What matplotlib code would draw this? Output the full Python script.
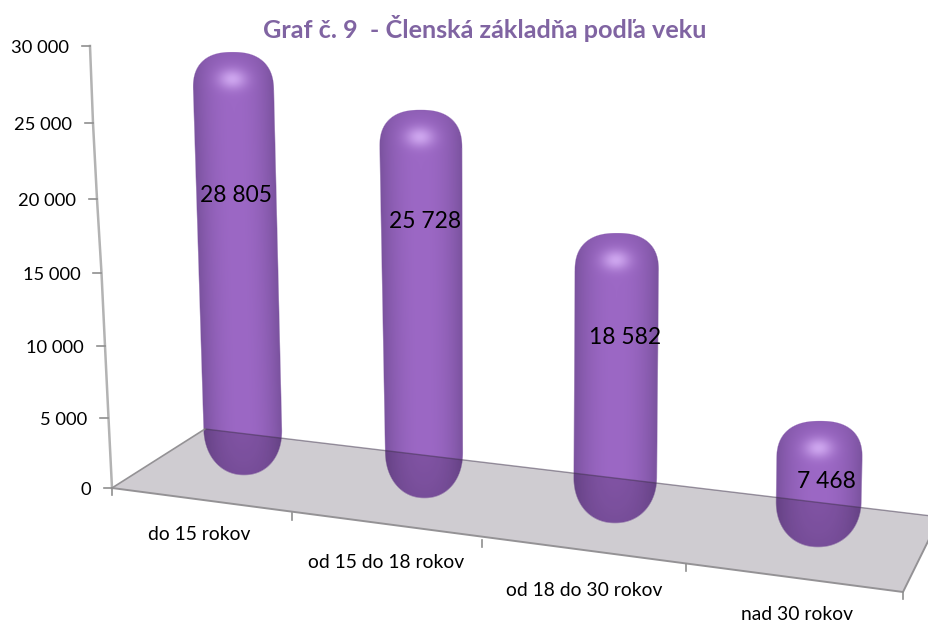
import numpy as np
import matplotlib
matplotlib.use('Agg')
import matplotlib.pyplot as plt
from matplotlib.patches import Polygon

plt.rcParams['font.family'] = ['Lato', 'DejaVu Sans']

categories = ['do 15 rokov', 'od 15 do 18 rokov', 'od 18 do 30 rokov', 'nad 30 rokov']
values = [28805, 25728, 18582, 7468]
y_ticks = [0, 5000, 10000, 15000, 20000, 25000, 30000]
title = 'Graf č. 9  - Členská základňa podľa veku'

# layout of the fake 3d scene, in pixels
W, H = 929, 623
wall_y = [488, 418, 346, 273, 199, 123, 46]
wall_x = [112, 108.5, 105, 101.5, 97, 93, 90]
floor = [(112, 488), (205, 429), (940, 517), (903, 592)]
cat_tick_x = [112, 292, 482, 686, 903]
cat_tick_y = [488, 513, 540, 564, 592]
cat_label_xy = [(199, 534), (386, 562), (584, 590), (797, 615)]

# per bar: bottom y, px per value, cx at top / bottom, half width top / bottom
bar_bottom = [475, 498, 523, 547]
bar_scale = [0.01392, 0.01423, 0.01442, 0.01393]
bar_pad = 22
cx_top = [232.5, 420.5, 617, 820]
cx_bot = [244, 424.5, 615, 818]
hw_top = [40.5, 41.5, 42, 43]
hw_bot = [39, 38.5, 41.5, 42.5]
label_y = [195, 222, 338, 481]
label_x = [236, 425, 625, 826]

C_DARK = np.array([122, 82, 158]) / 255
C_MID = np.array([156, 104, 197]) / 255
C_HI = np.array([205, 165, 238]) / 255


def fmt(v):
    return f'{v:,}'.replace(',', ' ')


def capsule(ax, top, bottom, c0, c1, h0, h1):
    x0, x1 = int(min(c0 - h0, c1 - h1)) - 6, int(max(c0 + h0, c1 + h1)) + 6
    y0, y1 = int(top) - 4, int(bottom) + 4
    xx, yy = np.meshgrid(np.arange(x0, x1) + 0.5, np.arange(y0, y1) + 0.5)
    s = (yy - top) / (bottom - top)
    cx = c0 + (c1 - c0) * s
    hw = h0 + (h1 - h0) * s
    u = (xx - cx) / hw
    cap_t, cap_b = 38.0, 46.0
    t = np.where(yy < top + cap_t, (top + cap_t - yy) / cap_t, 0.0)
    b = np.where(yy > bottom - cap_b, (yy - bottom + cap_b) / cap_b, 0.0)
    p_t, p_b = 2.45, 2.15
    f = np.where(t > 0, np.abs(u) ** p_t + t ** p_t, np.abs(u) ** p_b + b ** p_b)
    alpha = np.clip((1 - f) * 14 + 0.5, 0, 1)

    # shading, dark towards the rim, highlight in the top cap
    k = 1 - np.clip(np.abs(u), 0, 1) ** 2.2
    k = k * (1 - 0.4 * t ** 2) * (1 - 0.3 * b ** 1.5)
    rgb = C_DARK[None, None] + (C_MID - C_DARK)[None, None] * k[..., None]
    spot_x = cx - 0.02 * hw
    glow = np.exp(-(((xx - spot_x) / 14) ** 2 + ((yy - (top + 27)) / 10) ** 2))
    rgb = rgb + (C_HI - rgb) * glow[..., None]
    img = np.dstack([rgb, alpha])
    ax.imshow(img, extent=(x0, x1, y1, y0), origin='upper', aspect='auto',
              interpolation='bilinear', zorder=2)


fig = plt.figure(figsize=(W / 100, H / 100), dpi=100)
ax = fig.add_axes([0, 0, 1, 1])

# bars come first, the floor lies over them
for i, v in enumerate(values):
    top = bar_bottom[i] - bar_pad - bar_scale[i] * v
    capsule(ax, top, bar_bottom[i], cx_top[i], cx_bot[i], hw_top[i], hw_bot[i])

ax.add_patch(Polygon(floor, closed=True, facecolor=(0.06, 0.0, 0.1, 0.2),
                     edgecolor='none', zorder=3))
fx, fy = zip(*floor)
line_c = '#949295'
ax.plot([fx[0], fx[1]], [fy[0], fy[1]], color=line_c, lw=1.2, zorder=4)
ax.plot([fx[1], fx[2]], [fy[1], fy[2]], color=(0.25, 0.2, 0.3, 0.5), lw=1.0, zorder=4)
ax.plot([fx[0], fx[3], fx[2]], [fy[0], fy[3], fy[2]], color=line_c, lw=1.4, zorder=4)

# value axis
ax.plot(wall_x, wall_y, color='#b3b3b3', lw=1.8, zorder=1)
for tick, x, y in zip(y_ticks, wall_x, wall_y):
    ax.plot([x - 8, x], [y, y], color='#8f8f8f', lw=1.2, zorder=1)
    ax.text(x - 21, y + 2, fmt(tick), ha='right', va='center', fontsize=13.2, color='black')

# category axis
for x, y in zip(cat_tick_x, cat_tick_y):
    ax.plot([x, x], [y, y + 7], color='#8f8f8f', lw=1.2, zorder=4)
for name, (x, y) in zip(categories, cat_label_xy):
    ax.text(x, y, name, ha='center', va='center', fontsize=13.9, color='black')

for i, v in enumerate(values):
    ax.text(label_x[i], label_y[i], fmt(v), ha='center', va='center',
            fontsize=16.4, color='black', zorder=6)

ax.text(485, 28, title, ha='center', va='center', fontsize=18.2,
        fontweight='bold', color='#8064a2')

ax.set_xlim(0, W)
ax.set_ylim(H, 0)
ax.axis('off')
fig.savefig('out.png', dpi=100)
